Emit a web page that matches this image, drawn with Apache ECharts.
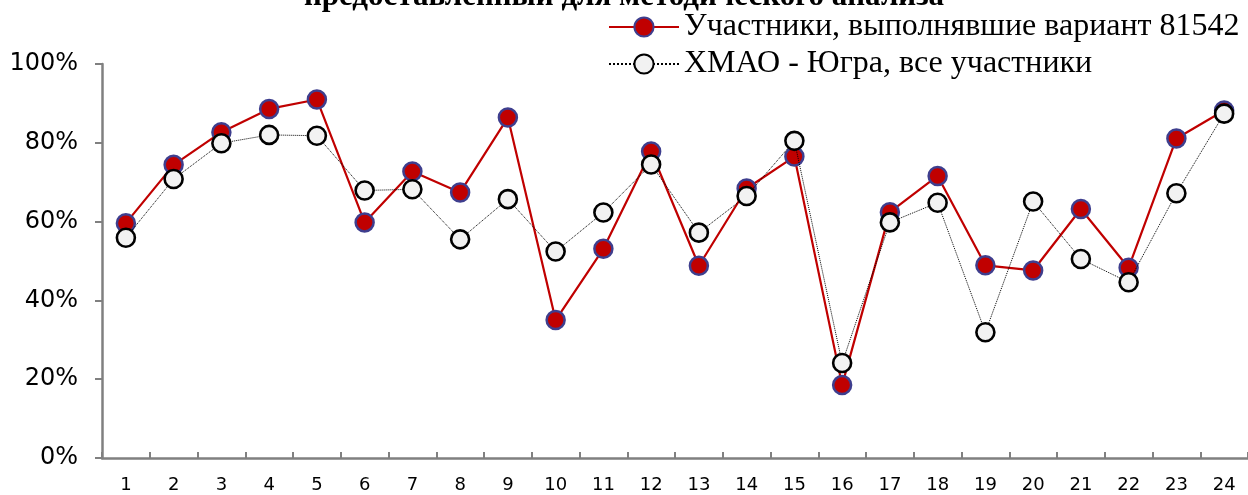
<!DOCTYPE html>
<html>
<head>
<meta charset="utf-8">
<script src="https://cdn.jsdelivr.net/npm/echarts@6/dist/echarts.min.js"></script>
<style>
  html, body { margin: 0; padding: 0; background: #fff; }
  #chart { width: 1248px; height: 495px; }
</style>
</head>
<body>
<div id="chart"></div>
<script>
// Task numbers on the x axis
const categories = ['1','2','3','4','5','6','7','8','9','10','11','12','13','14','15','16','17','18','19','20','21','22','23','24'];

// Share of correct answers, %
const variantShare = [59.6, 74.4, 82.7, 88.6, 91.0, 59.8, 72.7, 67.4, 86.4, 35.0, 53.1, 77.8, 48.8, 68.4, 76.5, 18.5, 62.4, 71.6, 48.9, 47.6, 63.2, 48.3, 81.1, 88.2];
const regionShare = [55.9, 70.8, 79.9, 82.0, 81.8, 67.9, 68.2, 55.5, 65.7, 52.4, 62.3, 74.5, 57.2, 66.5, 80.5, 24.1, 59.8, 64.8, 31.9, 65.1, 50.5, 44.6, 67.2, 87.4];

const seriesNames = ['Участники, выполнявшие вариант 81542', 'ХМАО - Югра, все участники'];
const titleText = 'предоставленный для методического анализа';

const axisFont = "'DejaVu Sans', Verdana, sans-serif";
const serifFont = "'Liberation Serif', 'Times New Roman', serif";

const chart = echarts.init(document.getElementById('chart'), null, { renderer: 'canvas' });

chart.setOption({
  animation: false,
  backgroundColor: '#ffffff',
  title: {
    text: titleText,
    left: 'center',
    top: -19,
    padding: 0,
    textStyle: { fontFamily: serifFont, fontWeight: 'bold', fontSize: 31, color: '#000' }
  },
  legend: {
    orient: 'vertical',
    left: 608,
    top: 11,
    itemWidth: 70,
    itemHeight: 24,
    itemGap: 5,
    padding: 0,
    textStyle: { fontFamily: serifFont, fontSize: 32, color: '#000' },
    data: seriesNames
  },
  grid: { left: 102, right: -5, top: 64, bottom: 37, containLabel: false },
  xAxis: {
    type: 'category',
    data: categories,
    boundaryGap: true,
    axisLine: { lineStyle: { color: '#808080', width: 2.5 } },
    axisTick: { show: true, inside: true, length: 6, lineStyle: { color: '#808080', width: 2 } },
    axisLabel: { fontFamily: axisFont, fontSize: 18, color: '#000', margin: 18 }
  },
  yAxis: {
    type: 'value',
    min: 0,
    max: 100,
    interval: 20,
    splitLine: { show: false },
    axisLine: { show: true, lineStyle: { color: '#808080', width: 2.5 } },
    axisTick: { show: true, length: 7, lineStyle: { color: '#808080', width: 2 } },
    axisLabel: { fontFamily: axisFont, fontSize: 24, color: '#000', margin: 24, formatter: '{value}%' }
  },
  series: [
    {
      name: seriesNames[0],
      type: 'line',
      data: variantShare,
      symbol: 'circle',
      symbolSize: 18,
      lineStyle: { color: '#C00000', width: 2.2 },
      itemStyle: { color: '#C00000', borderColor: '#3E3E8E', borderWidth: 2.5 },
      z: 2
    },
    {
      name: seriesNames[1],
      type: 'line',
      data: regionShare,
      symbol: 'circle',
      symbolSize: 18,
      lineStyle: { color: '#000000', width: 1, type: 'dotted' },
      itemStyle: { color: '#F2F2F2', borderColor: '#000000', borderWidth: 2.6 },
      z: 3
    }
  ]
});
</script>
</body>
</html>
